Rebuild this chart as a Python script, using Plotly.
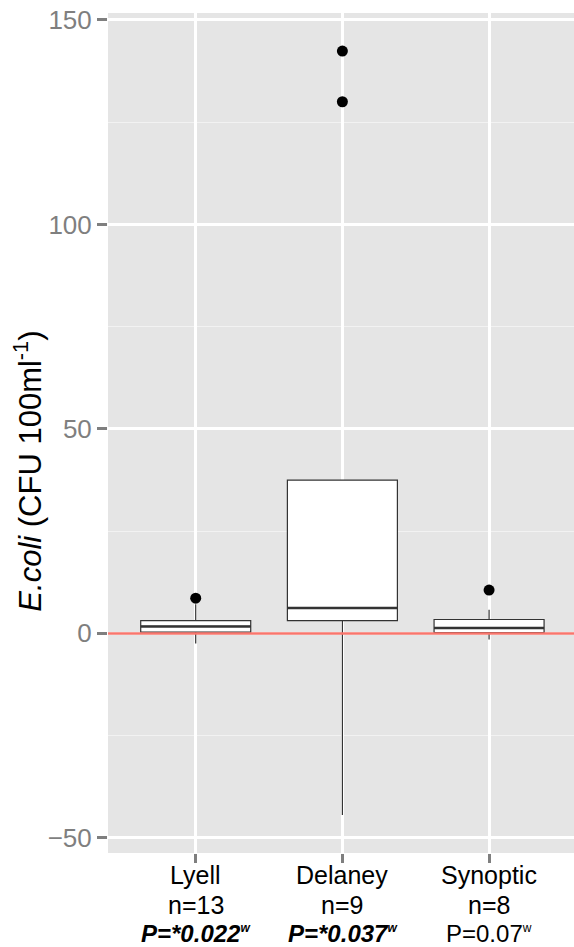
import plotly.graph_objects as go

# ---- data ----
categories = ["Lyell", "Delaney", "Synoptic"]
n_values = [13, 9, 8]
p_labels = ["P=*0.022", "P=*0.037", "P=0.07"]
p_significant = [True, True, False]

q1 = [0.3, 3.1, 0.2]
median = [1.7, 6.2, 1.3]
q3 = [3.1, 37.5, 3.4]
lower_whisker = [-2.5, -44.4, -1.5]
upper_whisker = [7.1, 37.5, 5.8]

outlier_cat = [0, 1, 1, 2]
outlier_val = [8.6, 142.4, 130.0, 10.6]

reference_line = 0

y_ticks = [-50, 0, 50, 100, 150]

FONT = "Liberation Sans, Arial, Helvetica, sans-serif"
W, H = 574, 947
L, R, T, B = 108, 0, 13, 94
BOX_W = 0.75

xs = list(range(len(categories)))

fig = go.Figure()
fig.add_trace(go.Box(
    x=xs, q1=q1, median=median, q3=q3,
    lowerfence=lower_whisker, upperfence=upper_whisker,
    width=BOX_W, whiskerwidth=0,
    fillcolor="white", line=dict(color="#333333", width=1.2),
    boxpoints=False, showlegend=False, hoverinfo="skip",
))
fig.add_trace(go.Scatter(
    x=outlier_cat, y=outlier_val, mode="markers",
    marker=dict(color="black", size=11), showlegend=False,
))

# thicker median lines
for i, m in enumerate(median):
    fig.add_shape(type="line", xref="x", yref="y",
                  x0=i - BOX_W / 2, x1=i + BOX_W / 2, y0=m, y1=m,
                  line=dict(color="#333333", width=2.5), layer="above")

# red reference line
fig.add_shape(type="line", xref="paper", yref="y", x0=0, x1=1,
              y0=reference_line, y1=reference_line,
              line=dict(color="#F8766D", width=2.5), layer="above")

# x labels as three lines
for i, (c, n, p, sig) in enumerate(zip(categories, n_values, p_labels, p_significant)):
    ptxt = f'{p}<sup><span style="font-size:12px;color:black">w</span></sup>'
    if sig:
        ptxt = f"<b><i>{ptxt}</i></b>"
    for txt, shift, size in [(c, -22, 25), (f"n={n}", -52, 25), (ptxt, -80, 24)]:
        fig.add_annotation(x=i, xref="x", y=0, yref="paper", yshift=shift,
                           text=txt, showarrow=False, xanchor="center", yanchor="middle",
                           font=dict(family=FONT, size=size, color="black"))

# y title
fig.add_annotation(x=-0.172, xref="paper", y=0.455, yref="paper",
                   text="<i>E.coli</i> (CFU 100ml<sup>-1</sup>)",
                   textangle=-90, showarrow=False, xanchor="center", yanchor="middle",
                   font=dict(family=FONT, size=31, color="black"))

fig.update_layout(
    width=W, height=H,
    margin=dict(l=L, r=R, t=T, b=B, pad=0),
    paper_bgcolor="white", plot_bgcolor="#E5E5E5",
    font=dict(family=FONT),
    showlegend=False,
)
fig.update_xaxes(
    range=[-0.598, 2.579], tickvals=xs, showticklabels=False,
    ticks="outside", ticklen=9, tickwidth=2.5, tickcolor="#7F7F7F",
    showgrid=True, gridcolor="white", gridwidth=2.5,
    zeroline=False, showline=False,
)
fig.update_yaxes(
    range=[-53.7, 151.7], tickvals=y_ticks,
    ticks="outside", ticklen=10, tickwidth=2.5, tickcolor="#7F7F7F",
    tickfont=dict(family=FONT, size=26, color="#7F7F7F"),
    showgrid=True, gridcolor="white", gridwidth=2.5,
    minor=dict(dtick=25, tick0=0, showgrid=True, gridcolor="#F2F2F2", gridwidth=1.2, ticks=""),
    zeroline=False, showline=False,
)

fig.write_html(
    "out.html",
    config={"displayModeBar": False},
    post_script="document.body.style.margin='0';document.body.style.overflow='hidden';",
)
